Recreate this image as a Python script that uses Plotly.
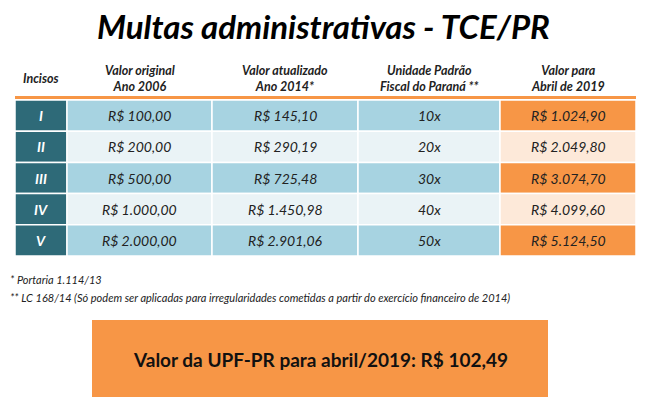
import plotly.graph_objects as go

incisos = ["I", "II", "III", "IV", "V"]
valor_2006 = ["R$ 100,00", "R$ 200,00", "R$ 500,00", "R$ 1.000,00", "R$ 2.000,00"]
valor_2014 = ["R$ 145,10", "R$ 290,19", "R$ 725,48", "R$ 1.450,98", "R$ 2.901,06"]
upf = ["10x", "20x", "30x", "40x", "50x"]
valor_2019 = ["R$ 1.024,90", "R$ 2.049,80", "R$ 3.074,70", "R$ 4.099,60", "R$ 5.124,50"]
headers = ["Incisos", "Valor original<br>Ano 2006", "Valor atualizado<br>Ano 2014*",
           "Unidade Padrão<br>Fiscal do Paraná **", "Valor para<br>Abril de 2019"]
footnotes = ["* Portaria 1.114/13",
             "** LC 168/14 (Só podem ser aplicadas para irregularidades cometidas a partir do exercício financeiro de 2014)"]
title = "Multas administrativas - TCE/PR"
box_text = "Valor da UPF-PR para abril/2019: R$ 102,49"

col_edges = [15, 67, 212, 358, 500, 636]
row_top, row_h = 100, 31.2
FONT = "Lato"
OFF = 8  # compensate page body margin

fig = go.Figure()
shapes, ann = [], []
cols = [incisos, valor_2006, valor_2014, upf, valor_2019]
for r in range(5):
    y0 = row_top + r * row_h
    for c in range(5):
        x0, x1 = col_edges[c], col_edges[c + 1]
        if c == 0:
            fill = "#2E6A78"
        elif c == 4:
            fill = "#F79646" if r % 2 == 0 else "#FDE9D9"
        else:
            fill = "#A7D3E1" if r % 2 == 0 else "#EAF3F6"
        shapes.append(dict(type="rect", x0=x0, x1=x1, y0=y0, y1=y0 + row_h, fillcolor=fill,
                           line=dict(color="white", width=1.5), layer="below"))
        ann.append(dict(x=(x0 + x1) / 2, y=y0 + row_h / 2, text=f"<i>{'<b>'+cols[c][r]+'</b>' if c == 0 else cols[c][r]}</i>",
                        showarrow=False, font=dict(family=FONT, size=14,
                                                   color="white" if c == 0 else "#222")))
for c in range(5):
    ann.append(dict(x=(col_edges[c] + col_edges[c + 1]) / 2, y=78, text=f"<b><i>{headers[c]}</i></b>",
                    showarrow=False, font=dict(family=FONT, size=12.5, color="#222")))
shapes.append(dict(type="line", x0=15, x1=636, y0=97.5, y1=97.5, line=dict(color="#F79646", width=3)))
ann.append(dict(x=323, y=26, text=f"<b><i>{title}</i></b>", showarrow=False,
                font=dict(family=FONT, size=33, color="black")))
for i, t in enumerate(footnotes):
    ann.append(dict(x=8, y=279 + i * 18, text=f"<i>{t}</i>", showarrow=False, xanchor="left",
                    font=dict(family=FONT, size=11, color="#222")))
shapes.append(dict(type="rect", x0=92, x1=548, y0=320, y1=397, fillcolor="#F79646",
                   line=dict(color="#F79646", width=0), layer="below"))
ann.append(dict(x=320, y=359, text=f"<b>{box_text}</b>", showarrow=False,
                font=dict(family=FONT, size=19, color="#111")))

fig.update_layout(width=647, height=413, margin=dict(l=0, r=0, t=0, b=0),
                  paper_bgcolor="white", plot_bgcolor="white",
                  shapes=shapes, annotations=ann, showlegend=False,
                  xaxis=dict(range=[OFF, 647 + OFF], visible=False, fixedrange=True),
                  yaxis=dict(range=[413 + OFF, OFF], visible=False, fixedrange=True))
fig.write_html("out.html")
